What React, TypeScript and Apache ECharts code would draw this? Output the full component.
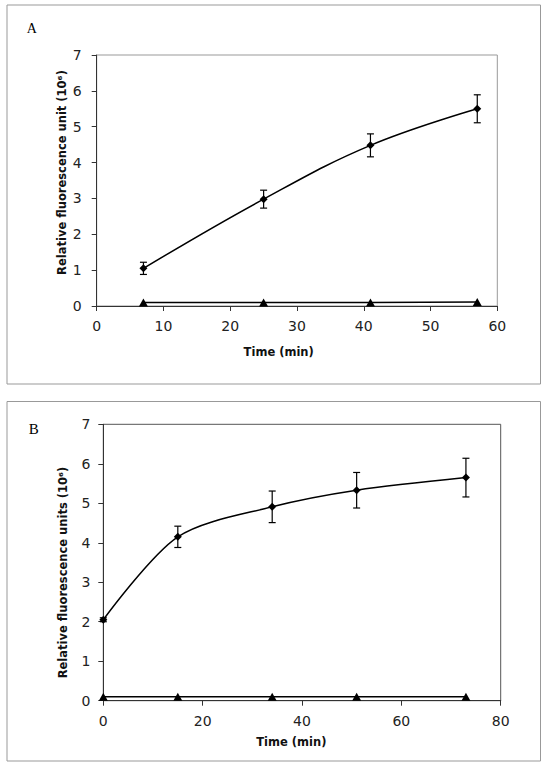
import React, { useEffect, useRef } from "react";
import * as echarts from "echarts";

// Panel A
const timeA = [7, 25, 41, 57];
const signalA = [1.05, 2.98, 4.48, 5.5];
const errA = [0.17, 0.25, 0.32, 0.39];
const controlA = [0.1, 0.1, 0.1, 0.11];
const xTicksA = { min: 0, max: 60, interval: 10 };

// Panel B
const timeB = [0, 15, 34, 51, 73];
const signalB = [2.05, 4.15, 4.91, 5.33, 5.65];
const errB = [0.05, 0.27, 0.4, 0.45, 0.49];
const controlB = [0.1, 0.1, 0.1, 0.1, 0.1];
const xTicksB = { min: 0, max: 80, interval: 20 };

const yTicks = { min: 0, max: 7, interval: 1 };

const titleY_A = "Relative fluorescence unit (10⁶)";
const titleY_B = "Relative fluorescence units (10⁶)";
const titleX = "Time (min)";

const FONT = "'DejaVu Sans', Verdana, sans-serif";

function errorSeries(xs: number[], ys: number[], es: number[], idx: number) {
  return {
    type: "custom",
    xAxisIndex: idx,
    yAxisIndex: idx,
    z: 3,
    silent: true,
    data: xs.map((x, i) => [x, ys[i] - es[i], ys[i] + es[i]]),
    renderItem: (params: any, api: any) => {
      const lo = api.coord([api.value(0), api.value(1)]);
      const hi = api.coord([api.value(0), api.value(2)]);
      const hw = 3.5;
      const style = { stroke: "#000", lineWidth: 1.2 };
      return {
        type: "group",
        children: [
          { type: "line", shape: { x1: lo[0], y1: lo[1], x2: hi[0], y2: hi[1] }, style },
          { type: "line", shape: { x1: lo[0] - hw, y1: lo[1], x2: lo[0] + hw, y2: lo[1] }, style },
          { type: "line", shape: { x1: hi[0] - hw, y1: hi[1], x2: hi[0] + hw, y2: hi[1] }, style },
        ],
      };
    },
  };
}

function xAxisOf(t: any, idx: number, labelMargin: number) {
  return {
    type: "value",
    gridIndex: idx,
    min: t.min,
    max: t.max,
    interval: t.interval,
    axisLine: { show: true, onZero: false, lineStyle: { color: "#333", width: 1 } },
    axisTick: { show: true, length: 5, lineStyle: { color: "#333" } },
    axisLabel: { margin: labelMargin, fontSize: 14, fontFamily: FONT, color: "#222" },
    splitLine: { show: false },
  };
}

function yAxisOf(idx: number, labelMargin: number) {
  return {
    type: "value",
    gridIndex: idx,
    min: yTicks.min,
    max: yTicks.max,
    interval: yTicks.interval,
    axisLine: { show: true, onZero: false, lineStyle: { color: "#333", width: 1 } },
    axisTick: { show: true, length: 5, lineStyle: { color: "#333" } },
    axisLabel: { margin: labelMargin, fontSize: 14, fontFamily: FONT, color: "#222" },
    splitLine: { show: false },
  };
}

export default function App() {
  const ref = useRef<HTMLDivElement>(null);
  useEffect(() => {
    if (!ref.current) return;
    const chart = echarts.init(ref.current, undefined, { renderer: "svg" });
    const titleStyle = { fontFamily: FONT, fontSize: 11.5, fontWeight: "bold", fill: "#111" };
    chart.setOption({
      animation: false,
      backgroundColor: "#fff",
      grid: [
        { left: 96.7, top: 55, width: 400.6, height: 251, show: true, borderColor: "#999", borderWidth: 1 },
        { left: 103.3, top: 424.3, width: 397.4, height: 276.4, show: true, borderColor: "#555", borderWidth: 1 },
      ],
      xAxis: [xAxisOf(xTicksA, 0, 13), xAxisOf(xTicksB, 1, 13)],
      yAxis: [yAxisOf(0, 15), yAxisOf(1, 13)],
      graphic: [
        { type: "rect", shape: { x: 7, y: 5, width: 533.5, height: 379 }, style: { fill: "none", stroke: "#999", lineWidth: 1 }, z: 0 },
        { type: "rect", shape: { x: 7, y: 401.5, width: 533.5, height: 359.5 }, style: { fill: "none", stroke: "#999", lineWidth: 1 }, z: 0 },
        { type: "text", x: 31.7, y: 28, style: { text: "A", font: "14px 'Liberation Serif', 'Times New Roman', serif", fill: "#000", align: "center", verticalAlign: "middle" } },
        { type: "text", x: 33.7, y: 429, style: { text: "B", font: "15px 'Liberation Serif', 'Times New Roman', serif", fill: "#000", align: "center", verticalAlign: "middle" } },
        { type: "text", x: 61.5, y: 172.5, rotation: Math.PI / 2, style: { ...titleStyle, text: titleY_A, align: "center", verticalAlign: "middle" } },
        { type: "text", x: 62.6, y: 572.5, rotation: Math.PI / 2, style: { ...titleStyle, text: titleY_B, align: "center", verticalAlign: "middle" } },
        { type: "text", x: 278.7, y: 351.7, style: { ...titleStyle, text: titleX, align: "center", verticalAlign: "middle" } },
        { type: "text", x: 291.3, y: 741.7, style: { ...titleStyle, text: titleX, align: "center", verticalAlign: "middle" } },
      ],
      series: [
        {
          type: "line",
          xAxisIndex: 0,
          yAxisIndex: 0,
          data: timeA.map((x, i) => [x, signalA[i]]),
          smooth: 0.4,
          symbol: "diamond",
          symbolSize: 8,
          itemStyle: { color: "#000" },
          lineStyle: { color: "#000", width: 1.5 },
          z: 4,
        },
        {
          type: "line",
          xAxisIndex: 0,
          yAxisIndex: 0,
          data: timeA.map((x, i) => [x, controlA[i]]),
          symbol: "triangle",
          symbolSize: [9, 8],
          itemStyle: { color: "#000" },
          lineStyle: { color: "#000", width: 1.5 },
          z: 4,
        },
        errorSeries(timeA, signalA, errA, 0),
        {
          type: "line",
          xAxisIndex: 1,
          yAxisIndex: 1,
          data: timeB.map((x, i) => [x, signalB[i]]),
          smooth: 0.3,
          symbol: "diamond",
          symbolSize: 8,
          itemStyle: { color: "#000" },
          lineStyle: { color: "#000", width: 1.5 },
          z: 4,
        },
        {
          type: "line",
          xAxisIndex: 1,
          yAxisIndex: 1,
          data: timeB.map((x, i) => [x, controlB[i]]),
          symbol: "triangle",
          symbolSize: [9, 8],
          itemStyle: { color: "#000" },
          lineStyle: { color: "#000", width: 1.5 },
          z: 4,
        },
        errorSeries(timeB, signalB, errB, 1),
      ],
    });
    return () => chart.dispose();
  }, []);
  return (
    <div
      ref={ref}
      style={{ position: "fixed", left: 0, top: 0, width: 548, height: 767, background: "#fff" }}
    />
  );
}
